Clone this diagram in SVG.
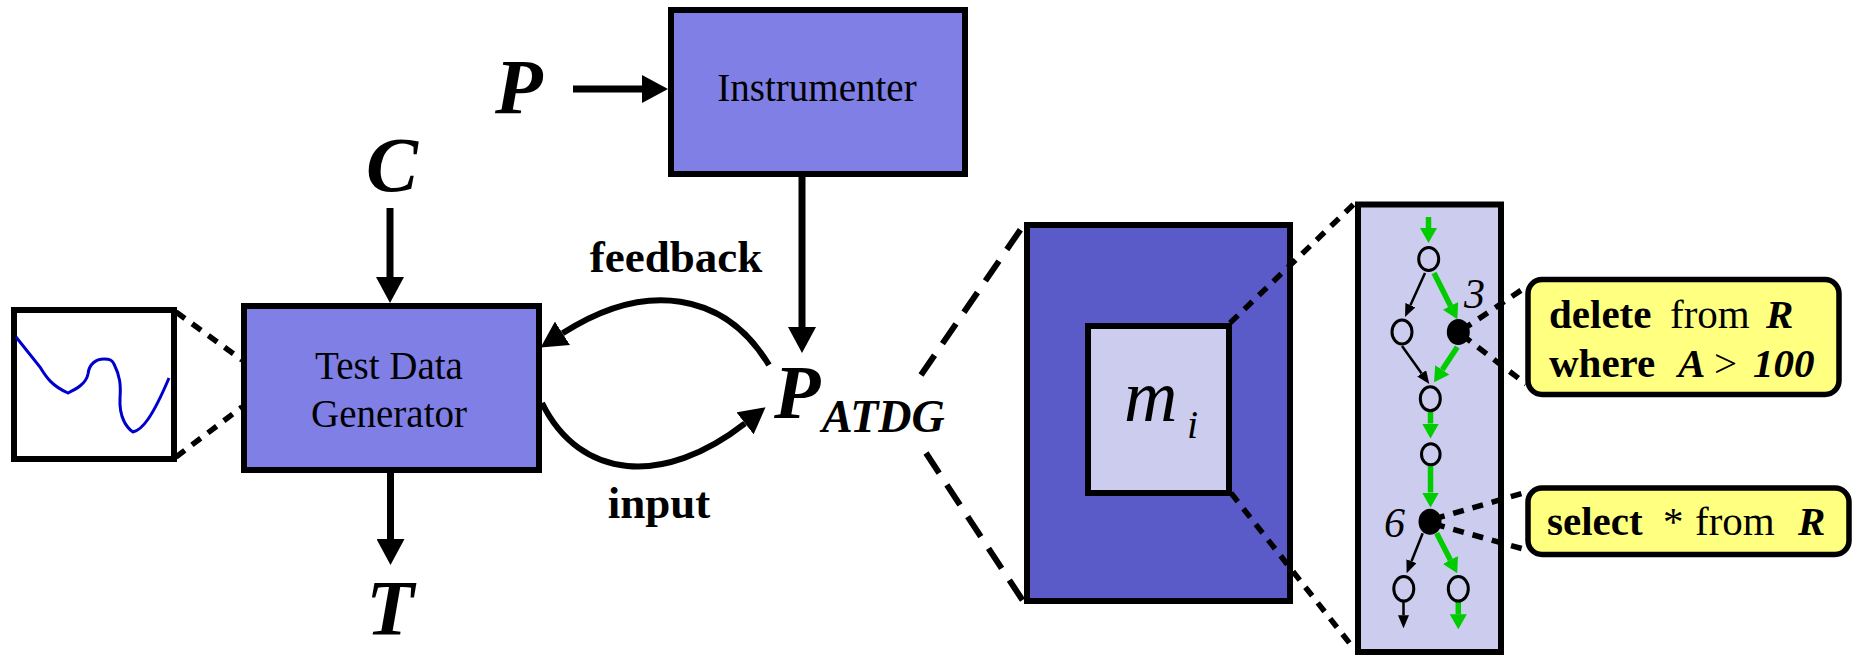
<svg xmlns="http://www.w3.org/2000/svg" width="1857" height="656" viewBox="0 0 1857 656">
<style>
.t{font-family:"Liberation Serif","Times New Roman",serif;fill:#000}
.box{stroke:#000;stroke-width:6}
.mid{fill:#7f7fe6}
.dark{fill:#5a5ac8}
.pale{fill:#ccccee}
.note{fill:#ffff80;stroke:#000;stroke-width:5.5}
.arr{stroke:#000;stroke-width:7;fill:none}
.curve{stroke:#000;stroke-width:6;fill:none}
.dash{stroke:#000;stroke-width:6;fill:none;stroke-dasharray:24 14}
.dot{stroke:#000;stroke-width:5.5;fill:none;stroke-dasharray:11 9}
.gA{stroke:#00cc00;stroke-width:5.5;fill:none}
.kA{stroke:#000;stroke-width:2.5;fill:none}
.nd{fill:#ccccee;stroke:#000;stroke-width:3}
.nf{fill:#000}
</style>
<defs>
<marker id="ah" markerUnits="userSpaceOnUse" markerWidth="26" markerHeight="28" viewBox="0 0 26 28" refX="0" refY="14" orient="auto"><path d="M0,0 L26,14 L0,28 z" fill="#000"/></marker>
<marker id="gh" markerUnits="userSpaceOnUse" markerWidth="15" markerHeight="17" viewBox="0 0 15 17" refX="0" refY="8.5" orient="auto"><path d="M0,0 L15,8.5 L0,17 z" fill="#00cc00"/></marker>
<marker id="kh" markerUnits="userSpaceOnUse" markerWidth="13" markerHeight="11" viewBox="0 0 13 11" refX="0" refY="5.5" orient="auto"><path d="M0,0 L13,5.5 L0,11 z" fill="#000"/></marker>
</defs>

<g id="node-plot">
<rect x="14" y="310" width="160" height="149" fill="#fff" class="box"/>
<path d="M16,337 L40,367 C46,377 52,386 68,393 C76,389 86,384 88,374 C89,364 96,359 104,359 C110,359 112,360 114,364 C120,376 121,385 120,398 C119,418 127,428 133,432 C142,430 152,418 169,378" fill="none" stroke="#0000cc" stroke-width="3"/>
</g>

<g id="node-P"><text class="t" x="495" y="113" font-size="78" font-weight="bold" font-style="italic">P</text></g>
<g id="node-C"><text class="t" x="392" y="191" font-size="78" font-weight="bold" font-style="italic" text-anchor="middle">C</text></g>
<g id="node-T"><text class="t" x="390" y="634" font-size="78" font-weight="bold" font-style="italic" text-anchor="middle">T</text></g>

<g id="node-instrumenter">
<rect x="671" y="10" width="294" height="164" class="box mid"/>
<text class="t" x="817" y="101" font-size="39" text-anchor="middle">Instrumenter</text>
</g>

<g id="node-tdg">
<rect x="244" y="306" width="295" height="164" class="box mid"/>
<text class="t" x="389" y="379" font-size="39" text-anchor="middle">Test Data</text>
<text class="t" x="389" y="427" font-size="39" text-anchor="middle">Generator</text>
</g>

<g id="node-patdg">
<text class="t" x="774" y="418" font-size="76" font-weight="bold" font-style="italic">P<tspan x="822" dy="14" font-size="46">ATDG</tspan></text>
</g>

<g id="node-module">
<rect x="1027" y="225" width="263" height="376" class="box dark"/>
<rect x="1088" y="326" width="141" height="167" class="box pale"/>
<text class="t" x="1124" y="421" font-size="74" font-style="italic">m<tspan x="1187" dy="17" font-size="40">i</tspan></text>
</g>

<g id="connectors">
<line x1="573" y1="89" x2="642" y2="89" class="arr" marker-end="url(#ah)"/>
<line x1="802" y1="177" x2="802" y2="327" class="arr" marker-end="url(#ah)"/>
<line x1="390" y1="208" x2="390" y2="277" class="arr" marker-end="url(#ah)"/>
<line x1="390.5" y1="472" x2="390.5" y2="539" class="arr" marker-end="url(#ah)"/>
<path d="M769,365 C725,292 645.7,279.7 562.5,333.3" class="curve" marker-end="url(#ah)"/>
<path d="M542,403 C580,480 663.5,487 745,423.3" class="curve" marker-end="url(#ah)"/>
<text class="t" x="676" y="272" font-size="45" font-weight="bold" text-anchor="middle">feedback</text>
<text class="t" x="659" y="518" font-size="45" font-weight="bold" text-anchor="middle">input</text>
<line x1="176" y1="312" x2="242" y2="360" class="dot"/>
<line x1="176" y1="457" x2="242" y2="407" class="dot"/>
<line x1="921" y1="375" x2="1025" y2="223" class="dash"/>
<line x1="926" y1="453" x2="1025" y2="604" class="dash"/>
<line x1="1230" y1="323" x2="1355" y2="203" class="dot"/>
<line x1="1231" y1="493" x2="1351" y2="645" class="dot"/>
</g>

<g id="node-cfg">
<rect x="1358" y="204.5" width="143" height="447.5" class="pale" stroke="#000" stroke-width="6"/>
<line x1="1428.5" y1="217" x2="1428.5" y2="228" class="gA" marker-end="url(#gh)"/>
<line x1="1425" y1="273" x2="1410.4" y2="305.2" class="kA" marker-end="url(#kh)"/>
<line x1="1434" y1="273" x2="1450.6" y2="305.9" class="gA" marker-end="url(#gh)"/>
<line x1="1402" y1="346" x2="1421.7" y2="373.4" class="kA" marker-end="url(#kh)"/>
<line x1="1457.3" y1="347" x2="1442.3" y2="369.8" class="gA" marker-end="url(#gh)"/>
<line x1="1430.5" y1="412" x2="1430.5" y2="423.5" class="gA" marker-end="url(#gh)"/>
<line x1="1430.5" y1="466" x2="1430.5" y2="492.5" class="gA" marker-end="url(#gh)"/>
<line x1="1422.7" y1="533.3" x2="1411.5" y2="561.2" class="kA" marker-end="url(#kh)"/>
<line x1="1436.7" y1="533.3" x2="1450.4" y2="560" class="gA" marker-end="url(#gh)"/>
<line x1="1403.5" y1="602" x2="1403.5" y2="615.3" class="kA" marker-end="url(#kh)"/>
<line x1="1458.3" y1="602" x2="1458.3" y2="614.3" class="gA" marker-end="url(#gh)"/>
<ellipse cx="1428.7" cy="259" rx="10" ry="11.5" class="nd"/>
<ellipse cx="1402" cy="332" rx="10" ry="12" class="nd"/>
<ellipse cx="1458.3" cy="332" rx="11.5" ry="13" class="nf"/>
<ellipse cx="1430.3" cy="398.7" rx="10" ry="12" class="nd"/>
<ellipse cx="1430.8" cy="454.3" rx="9.3" ry="10.5" class="nd"/>
<ellipse cx="1430" cy="521.7" rx="11.5" ry="13" class="nf"/>
<ellipse cx="1403.8" cy="588.8" rx="10" ry="12.3" class="nd"/>
<ellipse cx="1458.3" cy="588.8" rx="10" ry="12.3" class="nd"/>
<text class="t" x="1464" y="308" font-size="42" font-style="italic">3</text>
<text class="t" x="1384" y="537" font-size="42" font-style="italic">6</text>
<line x1="1462" y1="330" x2="1526" y2="287" class="dot" stroke-dasharray="13 9"/>
<line x1="1462" y1="335" x2="1526" y2="384" class="dot" stroke-dasharray="13 9"/>
<line x1="1434" y1="519" x2="1527" y2="492" class="dot" stroke-dasharray="14 9"/>
<line x1="1434" y1="524" x2="1527" y2="550" class="dot" stroke-dasharray="14 9"/>
</g>

<g id="node-q1">
<rect x="1528" y="279.5" width="311" height="115" rx="14" class="note"/>
<text class="t" font-size="41" y="328"><tspan x="1549" font-weight="bold">delete</tspan><tspan x="1670">from</tspan><tspan x="1766" font-weight="bold" font-style="italic">R</tspan></text>
<text class="t" font-size="41" y="377"><tspan x="1549" font-weight="bold">where</tspan><tspan x="1678" font-weight="bold" font-style="italic">A</tspan><tspan x="1714">&gt;</tspan><tspan x="1753" font-weight="bold" font-style="italic">100</tspan></text>
</g>

<g id="node-q2">
<rect x="1528" y="488" width="321" height="66.5" rx="14" class="note"/>
<text class="t" font-size="41" y="535"><tspan x="1547" font-weight="bold">select</tspan><tspan x="1663">*</tspan><tspan x="1695">from</tspan><tspan x="1798" font-weight="bold" font-style="italic">R</tspan></text>
</g>
</svg>
